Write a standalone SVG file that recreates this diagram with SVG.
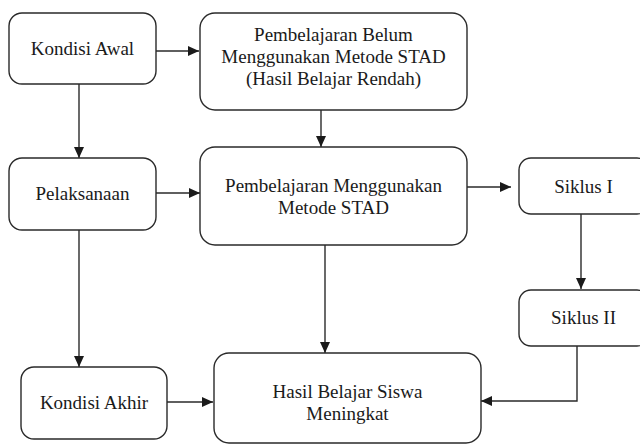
<svg xmlns="http://www.w3.org/2000/svg" width="640" height="445" viewBox="0 0 640 445">
<style>
.box{fill:#fff;stroke:#2a2a2a;stroke-width:1.4}
.lbl{font-size:19px;fill:#1a1a1a;text-anchor:middle}
.edge{fill:none;stroke:#2a2a2a;stroke-width:1.4}
</style>
<defs>
<marker id="arr" markerUnits="userSpaceOnUse" markerWidth="12" markerHeight="12" refX="11" refY="5" orient="auto">
<path d="M0,0 L11,5 L0,10 z" fill="#1a1a1a"/>
</marker>
</defs>
<rect width="640" height="445" fill="#fff"/>
<g id="connectors">
<line class="edge" x1="156" y1="51" x2="199" y2="51" marker-end="url(#arr)"/>
<line class="edge" x1="79" y1="84" x2="79" y2="158" marker-end="url(#arr)"/>
<line class="edge" x1="156" y1="193" x2="200" y2="193" marker-end="url(#arr)"/>
<line class="edge" x1="321" y1="110" x2="321" y2="147" marker-end="url(#arr)"/>
<line class="edge" x1="467" y1="187" x2="511" y2="187" marker-end="url(#arr)"/>
<line class="edge" x1="581" y1="214" x2="581" y2="289" marker-end="url(#arr)"/>
<line class="edge" x1="79" y1="230" x2="79" y2="367" marker-end="url(#arr)"/>
<line class="edge" x1="325" y1="245" x2="325" y2="353" marker-end="url(#arr)"/>
<line class="edge" x1="167" y1="402" x2="213" y2="402" marker-end="url(#arr)"/>
<polyline class="edge" points="577,346 577,401 481,401" marker-end="url(#arr)"/>
</g>
<g font-family="'Liberation Serif', 'DejaVu Serif', serif">
<g id="kondisi-awal">
<rect class="box" x="9" y="13" width="147" height="71" rx="13"/>
<text class="lbl" x="82.5" y="55">Kondisi Awal</text>
</g>
<g id="pembelajaran-belum">
<rect class="box" x="200" y="13" width="267" height="97" rx="15"/>
<text class="lbl" x="333.5" y="41">Pembelajaran Belum</text>
<text class="lbl" x="333.5" y="63">Menggunakan Metode STAD</text>
<text class="lbl" x="333.5" y="85">(Hasil Belajar Rendah)</text>
</g>
<g id="pelaksanaan">
<rect class="box" x="9" y="158" width="147" height="72" rx="13"/>
<text class="lbl" x="82.5" y="200">Pelaksanaan</text>
</g>
<g id="pembelajaran-stad">
<rect class="box" x="200" y="147" width="267" height="98" rx="15"/>
<text class="lbl" x="333.5" y="192">Pembelajaran Menggunakan</text>
<text class="lbl" x="333.5" y="214">Metode STAD</text>
</g>
<g id="siklus-1">
<rect class="box" x="519" y="158" width="130" height="56" rx="12"/>
<text class="lbl" x="583.5" y="193">Siklus I</text>
</g>
<g id="siklus-2">
<rect class="box" x="519" y="290" width="130" height="56" rx="12"/>
<text class="lbl" x="583.5" y="324">Siklus II</text>
</g>
<g id="kondisi-akhir">
<rect class="box" x="21" y="367" width="146" height="72" rx="13"/>
<text class="lbl" x="94" y="409">Kondisi Akhir</text>
</g>
<g id="hasil-belajar">
<rect class="box" x="214" y="353" width="267" height="90" rx="15"/>
<text class="lbl" x="347.5" y="398">Hasil Belajar Siswa</text>
<text class="lbl" x="347.5" y="420">Meningkat</text>
</g>
</g>
</svg>
